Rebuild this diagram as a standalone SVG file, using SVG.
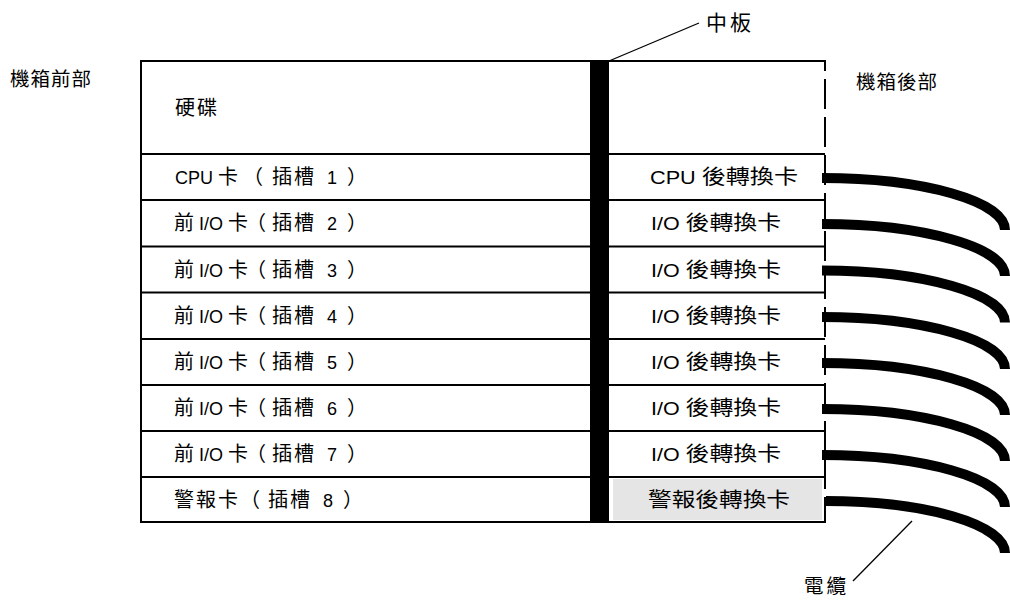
<svg xmlns="http://www.w3.org/2000/svg" width="1010" height="602" viewBox="0 0 1010 602">
<style>
text{font-family:"Liberation Sans","Noto Sans CJK TC",sans-serif;font-size:20px;fill:#000}
.l{font-size:18px}
.ls{letter-spacing:2px}
.lab{font-size:19.5px;letter-spacing:1px}
.ln{stroke:#000;stroke-width:2;fill:none}
.lead{stroke:#000;stroke-width:1.3;fill:none}
.cab{stroke:#000;stroke-width:10;fill:none;stroke-linecap:butt}
</style>
<rect width="1010" height="602" fill="#fff"/>
<g id="chassis">
<rect x="613" y="479" width="209" height="41" fill="#e5e5e5"/>
<line class="ln" x1="141" y1="61" x2="826" y2="61"/>
<line class="ln" x1="141" y1="60" x2="141" y2="523"/>
<line class="ln" x1="140" y1="522" x2="826" y2="522"/>
<line class="ln" x1="141" y1="154" x2="825" y2="154"/>
<line class="ln" x1="141" y1="200" x2="825" y2="200"/>
<line class="ln" x1="141" y1="246.5" x2="825" y2="246.5"/>
<line class="ln" x1="141" y1="292.5" x2="825" y2="292.5"/>
<line class="ln" x1="141" y1="339" x2="825" y2="339"/>
<line class="ln" x1="141" y1="385" x2="825" y2="385"/>
<line class="ln" x1="141" y1="431" x2="825" y2="431"/>
<line class="ln" x1="141" y1="477" x2="825" y2="477"/>
<line class="ln" x1="825" y1="61" x2="825" y2="523" stroke-dasharray="30 8" stroke-dashoffset="20"/>
</g>
<g id="midplane">
<rect x="590" y="61" width="19" height="462" fill="#000"/>
</g>
<g id="front-cards">
<text x="175" y="115" class="ls">硬碟</text>
<text y="184"><tspan class="l" x="175">CPU</tspan><tspan x="218">卡</tspan><tspan x="243">（</tspan><tspan class="ls" x="272">插槽</tspan><tspan class="l" x="327">1</tspan><tspan x="347">）</tspan></text>
<text y="230"><tspan x="174">前</tspan><tspan class="l" x="199">I/O</tspan><tspan x="228">卡</tspan><tspan x="246">（</tspan><tspan class="ls" x="272">插槽</tspan><tspan class="l" x="327">2</tspan><tspan x="347">）</tspan></text>
<text y="276.5"><tspan x="174">前</tspan><tspan class="l" x="199">I/O</tspan><tspan x="228">卡</tspan><tspan x="246">（</tspan><tspan class="ls" x="272">插槽</tspan><tspan class="l" x="327">3</tspan><tspan x="347">）</tspan></text>
<text y="322.7"><tspan x="174">前</tspan><tspan class="l" x="199">I/O</tspan><tspan x="228">卡</tspan><tspan x="246">（</tspan><tspan class="ls" x="272">插槽</tspan><tspan class="l" x="327">4</tspan><tspan x="347">）</tspan></text>
<text y="369"><tspan x="174">前</tspan><tspan class="l" x="199">I/O</tspan><tspan x="228">卡</tspan><tspan x="246">（</tspan><tspan class="ls" x="272">插槽</tspan><tspan class="l" x="327">5</tspan><tspan x="347">）</tspan></text>
<text y="415"><tspan x="174">前</tspan><tspan class="l" x="199">I/O</tspan><tspan x="228">卡</tspan><tspan x="246">（</tspan><tspan class="ls" x="272">插槽</tspan><tspan class="l" x="327">6</tspan><tspan x="347">）</tspan></text>
<text y="461"><tspan x="174">前</tspan><tspan class="l" x="199">I/O</tspan><tspan x="228">卡</tspan><tspan x="246">（</tspan><tspan class="ls" x="272">插槽</tspan><tspan class="l" x="327">7</tspan><tspan x="347">）</tspan></text>
<text y="506.5"><tspan class="ls" x="174">警報卡</tspan><tspan x="240">（</tspan><tspan class="ls" x="268">插槽</tspan><tspan class="l" x="323">8</tspan><tspan x="343">）</tspan></text>
</g>
<g id="rear-cards">
<text x="650" y="184" textLength="148" lengthAdjust="spacingAndGlyphs"><tspan class="l">CPU </tspan>後轉換卡</text>
<text x="651" y="230" textLength="130" lengthAdjust="spacingAndGlyphs"><tspan class="l">I/O </tspan>後轉換卡</text>
<text x="651" y="276.5" textLength="130" lengthAdjust="spacingAndGlyphs"><tspan class="l">I/O </tspan>後轉換卡</text>
<text x="651" y="322.7" textLength="130" lengthAdjust="spacingAndGlyphs"><tspan class="l">I/O </tspan>後轉換卡</text>
<text x="651" y="369" textLength="130" lengthAdjust="spacingAndGlyphs"><tspan class="l">I/O </tspan>後轉換卡</text>
<text x="651" y="415" textLength="130" lengthAdjust="spacingAndGlyphs"><tspan class="l">I/O </tspan>後轉換卡</text>
<text x="651" y="461" textLength="130" lengthAdjust="spacingAndGlyphs"><tspan class="l">I/O </tspan>後轉換卡</text>
<text x="648" y="506.5" textLength="142" lengthAdjust="spacingAndGlyphs">警報後轉換卡</text>
</g>
<g id="labels">
<text class="lab" x="10" y="86">機箱前部</text>
<text class="lab" x="856" y="89">機箱後部</text>
<text class="lab" x="706" y="30" style="font-size:21px;letter-spacing:3px">中板</text>
<text class="lab" x="804" y="593" style="letter-spacing:3px">電纜</text>
</g>
<g id="connectors">
<line class="lead" x1="609" y1="61" x2="699" y2="23"/>
<line class="lead" x1="853" y1="581" x2="912" y2="521"/>
<path class="cab" d="M822,178 A183,52 0 0 1 1005,230"/>
<path class="cab" d="M822,224 A183,52 0 0 1 1005,276"/>
<path class="cab" d="M822,270.5 A183,52 0 0 1 1005,322.5"/>
<path class="cab" d="M822,317 A183,52 0 0 1 1005,369"/>
<path class="cab" d="M822,363 A183,52 0 0 1 1005,415"/>
<path class="cab" d="M822,409 A183,52 0 0 1 1005,461"/>
<path class="cab" d="M822,455 A183,52 0 0 1 1005,507"/>
<path class="cab" d="M826,501 A179,52 0 0 1 1005,553"/>
</g>
</svg>
